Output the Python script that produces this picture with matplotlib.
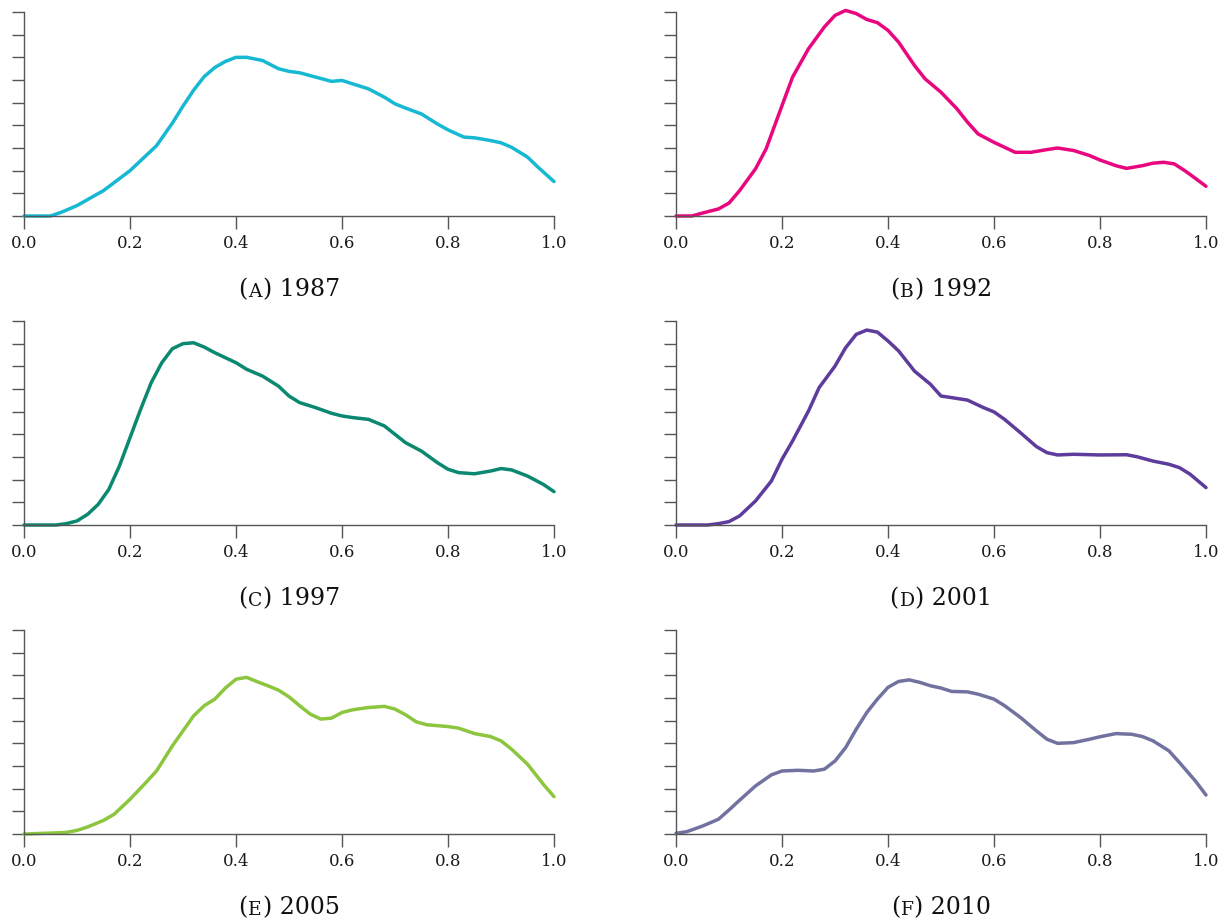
import numpy as np
import matplotlib.pyplot as plt
from matplotlib.offsetbox import TextArea, HPacker, AnchoredOffsetbox

# values (y in tick units, 0..9)
x_1987 = [0, 0.05, 0.07, 0.1, 0.15, 0.2, 0.25, 0.28, 0.3, 0.32, 0.34, 0.36, 0.38, 0.4, 0.42, 0.45,
          0.48, 0.5, 0.52, 0.55, 0.58, 0.6, 0.62, 0.65, 0.68, 0.7, 0.72, 0.75, 0.78, 0.8, 0.83,
          0.85, 0.88, 0.9, 0.92, 0.95, 0.97, 1.0]
y_1987 = [0, 0, 0.16, 0.46, 1.12, 2.0, 3.1, 4.1, 4.85, 5.55, 6.15, 6.55, 6.82, 7.0, 7.0, 6.86,
          6.5, 6.38, 6.32, 6.13, 5.94, 5.98, 5.83, 5.61, 5.24, 4.95, 4.76, 4.5, 4.06, 3.8, 3.48,
          3.45, 3.33, 3.23, 3.03, 2.6, 2.15, 1.52]

x_1992 = [0, 0.03, 0.05, 0.08, 0.1, 0.12, 0.15, 0.17, 0.2, 0.22, 0.25, 0.28, 0.3, 0.32, 0.34,
          0.36, 0.38, 0.4, 0.42, 0.45, 0.47, 0.5, 0.53, 0.55, 0.57, 0.6, 0.62, 0.64, 0.67, 0.7,
          0.72, 0.75, 0.78, 0.8, 0.83, 0.85, 0.88, 0.9, 0.92, 0.94, 0.96, 0.98, 1.0]
y_1992 = [0, 0, 0.13, 0.31, 0.57, 1.12, 2.08, 2.96, 4.87, 6.13, 7.38, 8.34, 8.85, 9.07, 8.93,
          8.67, 8.53, 8.19, 7.67, 6.64, 6.05, 5.46, 4.73, 4.14, 3.62, 3.25, 3.03, 2.81, 2.81, 2.93,
          3.0, 2.89, 2.67, 2.47, 2.22, 2.1, 2.22, 2.33, 2.37, 2.3, 2.0, 1.66, 1.31]

x_1997 = [0, 0.06, 0.08, 0.1, 0.12, 0.14, 0.16, 0.18, 0.2, 0.22, 0.24, 0.26, 0.28, 0.3, 0.32,
          0.34, 0.36, 0.38, 0.4, 0.42, 0.45, 0.48, 0.5, 0.52, 0.55, 0.58, 0.6, 0.62, 0.65, 0.68,
          0.7, 0.72, 0.75, 0.78, 0.8, 0.82, 0.85, 0.88, 0.9, 0.92, 0.95, 0.98, 1.0]
y_1997 = [0, 0, 0.06, 0.18, 0.47, 0.91, 1.57, 2.6, 3.85, 5.1, 6.28, 7.16, 7.78, 8.0, 8.04,
          7.85, 7.6, 7.38, 7.16, 6.87, 6.57, 6.13, 5.69, 5.4, 5.18, 4.93, 4.81, 4.74, 4.66, 4.37,
          4.0, 3.63, 3.26, 2.75, 2.46, 2.31, 2.26, 2.38, 2.49, 2.43, 2.16, 1.79, 1.47]

x_2001 = [0, 0.06, 0.08, 0.1, 0.12, 0.15, 0.18, 0.2, 0.22, 0.25, 0.27, 0.3, 0.32, 0.34, 0.36,
          0.38, 0.4, 0.42, 0.45, 0.48, 0.5, 0.52, 0.55, 0.58, 0.6, 0.62, 0.65, 0.68, 0.7, 0.72,
          0.75, 0.8, 0.85, 0.87, 0.9, 0.93, 0.95, 0.97, 1.0]
y_2001 = [0, 0, 0.06, 0.15, 0.4, 1.06, 1.94, 2.9, 3.71, 5.03, 6.06, 7.01, 7.82, 8.41, 8.6,
          8.51, 8.12, 7.68, 6.79, 6.21, 5.69, 5.62, 5.51, 5.18, 4.99, 4.66, 4.07, 3.46, 3.19, 3.09,
          3.12, 3.09, 3.1, 3.01, 2.82, 2.68, 2.53, 2.24, 1.65]

x_2005 = [0, 0.05, 0.08, 0.1, 0.12, 0.15, 0.17, 0.2, 0.23, 0.25, 0.28, 0.3, 0.32, 0.34, 0.36,
          0.38, 0.4, 0.42, 0.44, 0.46, 0.48, 0.5, 0.52, 0.54, 0.56, 0.58, 0.6, 0.62, 0.65, 0.68,
          0.7, 0.72, 0.74, 0.76, 0.8, 0.82, 0.85, 0.88, 0.9, 0.92, 0.95, 0.98, 1.0]
y_2005 = [0, 0.04, 0.07, 0.16, 0.31, 0.6, 0.87, 1.53, 2.27, 2.78, 3.89, 4.55, 5.21, 5.66, 5.95,
          6.44, 6.83, 6.91, 6.72, 6.54, 6.35, 6.05, 5.66, 5.29, 5.07, 5.11, 5.36, 5.48, 5.58, 5.63,
          5.51, 5.26, 4.95, 4.82, 4.74, 4.67, 4.43, 4.3, 4.11, 3.74, 3.08, 2.19, 1.65]

x_2010 = [0, 0.02, 0.05, 0.08, 0.1, 0.12, 0.15, 0.18, 0.2, 0.23, 0.26, 0.28, 0.3, 0.32, 0.34,
          0.36, 0.38, 0.4, 0.42, 0.44, 0.46, 0.48, 0.5, 0.52, 0.55, 0.57, 0.6, 0.62, 0.65, 0.68,
          0.7, 0.72, 0.75, 0.78, 0.8, 0.83, 0.86, 0.88, 0.9, 0.93, 0.95, 0.98, 1.0]
y_2010 = [0.03, 0.1, 0.35, 0.65, 1.06, 1.49, 2.12, 2.61, 2.78, 2.81, 2.78, 2.86, 3.22, 3.81, 4.62,
          5.36, 5.95, 6.47, 6.73, 6.8, 6.69, 6.54, 6.44, 6.29, 6.27, 6.17, 5.95, 5.66, 5.14, 4.55,
          4.18, 4.0, 4.03, 4.18, 4.29, 4.43, 4.4, 4.3, 4.11, 3.67, 3.15, 2.34, 1.72]

letters = ["A", "B", "C", "D", "E", "F"]
years = ["1987", "1992", "1997", "2001", "2005", "2010"]
colors = ["#17b8d3", "#e8077f", "#0b8870", "#5e3c9c", "#8cc63f", "#7272a0"]
xs = [x_1987, x_1992, x_1997, x_2001, x_2005, x_2010]
ys = [y_1987, y_1992, y_1997, y_2001, y_2005, y_2010]

plt.rcParams['font.family'] = ['DejaVu Serif']

fig = plt.figure(figsize=(12.25, 9.21), dpi=100)
W, H = 1225.0, 921.0
lefts = [24, 676]
tops = [12, 321, 630]
aw, ah = 530, 204

for i in range(6):
    r, c = divmod(i, 2)
    ax = fig.add_axes([lefts[c] / W, 1 - (tops[r] + ah) / H, aw / W, ah / H])
    ax.plot(xs[i], ys[i], color=colors[i], lw=2.5, solid_capstyle='round',
            solid_joinstyle='round', clip_on=False)
    ax.set_xlim(0, 1)
    ax.set_ylim(0, 9)
    ax.set_xticks(np.arange(0, 1.01, 0.2))
    ax.set_xticklabels(["0.0", "0.2", "0.4", "0.6", "0.8", "1.0"])
    ax.set_yticks(np.arange(0, 10, 1))
    ax.set_yticklabels([])
    for s in ['top', 'right']:
        ax.spines[s].set_visible(False)
    for s in ['left', 'bottom']:
        ax.spines[s].set_color('#555555')
        ax.spines[s].set_linewidth(1.0)
    ax.tick_params(length=9, width=1.0, color='#555555', labelsize=12, pad=5, labelcolor='#1a1a1a')

    parts = [TextArea("(", textprops=dict(size=17, color='#111111')),
             TextArea(letters[i], textprops=dict(size=13.5, color='#111111')),
             TextArea(") " + years[i], textprops=dict(size=17, color='#111111'))]
    box = HPacker(children=parts, align="baseline", pad=0, sep=0.5)
    anch = AnchoredOffsetbox(loc='center', child=box, pad=0, frameon=False,
                             bbox_to_anchor=(0.5, -0.363), bbox_transform=ax.transAxes,
                             borderpad=0)
    ax.add_artist(anch)

fig.savefig("out.png", dpi=100)
